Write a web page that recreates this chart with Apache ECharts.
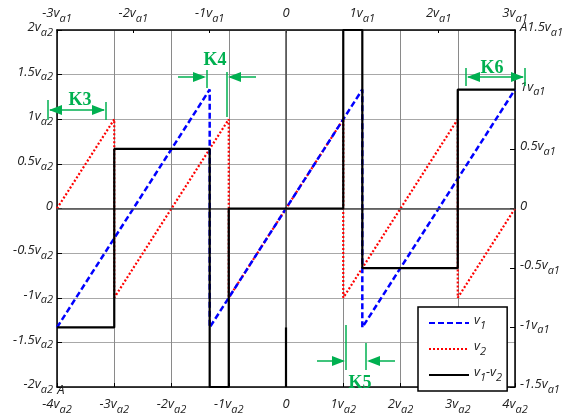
<!DOCTYPE html>
<html><head><meta charset="utf-8">
<script src="https://cdn.jsdelivr.net/npm/echarts@6/dist/echarts.min.js"></script>
<style>html,body{margin:0;padding:0;background:#fff}#c{width:562px;height:416px}</style>
</head><body><div id="c"></div>
<script>
// x in units of v_a2, y in units of v_a2
const v1Data = [[-4,-1.333],[-1.333,1.333],[-1.333,-1.333],[1.333,1.333],[1.333,-1.333],[4,1.333]];
const v2Data = [[-4,0],[-3,1],[-3,-1],[-1,1],[-1,-1],[1,1],[1,-1],[3,1],[3,-1],[4,0]];
const diffData = [[-4,-1.333],[-3,-1.333],[-3,0.667],[-1.333,0.667],[-1.333,-2],[-1,-2],[-1,0],[1,0],[1,2],[1.333,2],[1.333,-0.667],[3,-0.667],[3,1.333],[4,1.333]];
const diffExtra = [[0,-1.333],[0,-2]];
const bottomTicks = [-4,-3,-2,-1,0,1,2,3,4];      // v_a2
const leftTicks = [-2,-1.5,-1,-0.5,0,0.5,1,1.5,2]; // v_a2
const topTicks = [-3,-2,-1,0,1,2,3];              // v_a1
const rightTicks = [-1.5,-1,-0.5,0,0.5,1,1.5];    // v_a1
const seriesNames = ['v1','v2','v1-v2'];

const FONT = 'Open Sans';
const rich = {
  n: {fontFamily: FONT, fontStyle: 'italic', fontSize: 13, color: '#222', padding: [0,0,5,0]},
  s: {fontFamily: FONT, fontStyle: 'italic', fontSize: 11, color: '#222', padding: [5,0,0,0]}
};
function lab(v, sub, prefix) {
  const p = prefix || '';
  if (v === 0) return '{n|' + p + '0}';
  return '{n|' + p + v + 'v}{s|' + sub + '}';
}

const chart = echarts.init(document.getElementById('c'));
const G = '#00b050';
const L = 57, R = 515, T = 30, B = 387;

function arrowHead(tipX, y, dir) {
  const len = 13, h = 5;
  return {type: 'polygon', shape: {points: [[tipX, y], [tipX - dir*len, y - h], [tipX - dir*len, y + h]]}, style: {fill: G}, z: 100};
}
function seg(x1,y1,x2,y2){ return {type:'line', shape:{x1,y1,x2,y2}, style:{stroke:G, lineWidth:1.5}, z:100}; }
function ktext(t, x, y){ return {type:'text', x, y, style:{text:t, fill:G, font:'bold 18px "Liberation Serif"', align:'center', verticalAlign:'middle'}, z:100}; }

const graphics = [
  seg(48,100,48,120), seg(106,102,106,120), seg(50,110,104,110), arrowHead(49,110,-1), arrowHead(105,110,1), ktext('K3',80,100),
  seg(207,70,207,88), seg(227,72,227,117), seg(178,77,204,77), arrowHead(206,77,1), seg(256,77,230,77), arrowHead(228,77,-1), ktext('K4',215,60),
  seg(346,325,346,370), seg(366,343,366,370), seg(317,361,343,361), arrowHead(345,361,1), seg(395,361,369,361), arrowHead(367,361,-1), ktext('K5',360,383),
  seg(466,68,466,86), seg(525,68,525,86), seg(468,77,523,77), arrowHead(467,77,-1), arrowHead(524,77,1), ktext('K6',492,68),
  {type:'text', x:61, y:390, style:{text:'A', fill:'#222', font:'italic 13px "Open Sans"', align:'center', verticalAlign:'middle'}, z:50}
];

chart.setOption({
  animation: false,
  backgroundColor: '#fff',
  grid: {left: L, right: 562 - R, top: T, bottom: 416 - B, containLabel: false, outerBoundsMode: 'none'},
  xAxis: [
    {type: 'value', position: 'bottom', min: -4, max: 4, interval: 1,
     axisLine: {onZero: false, lineStyle: {color: '#000', width: 1.5}},
     axisTick: {inside: true, length: 4, lineStyle: {color: '#000'}},
     splitLine: {show: true, lineStyle: {color: '#8a8a8a', width: 1}},
     axisLabel: {margin: 11, formatter: v => lab(v, 'a2'), rich: rich}},
    {type: 'value', position: 'top', min: -3, max: 3, interval: 1,
     axisLine: {onZero: false, lineStyle: {color: '#000', width: 1.5}},
     axisTick: {inside: true, length: 3, lineStyle: {color: '#000'}},
     splitLine: {show: false},
     axisLabel: {margin: 5, formatter: v => lab(v, 'a1'), rich: rich}}
  ],
  yAxis: [
    {type: 'value', position: 'left', min: -2, max: 2, interval: 0.5,
     axisLine: {onZero: false, lineStyle: {color: '#000', width: 1.5}},
     axisTick: {inside: true, length: 5, lineStyle: {color: '#000'}},
     splitLine: {show: true, lineStyle: {color: '#a8a8a8', width: 1}},
     axisLabel: {margin: 4, formatter: v => lab(v, 'a2'), rich: rich}},
    {type: 'value', position: 'right', min: -1.5, max: 1.5, interval: 0.5,
     axisLine: {onZero: false, lineStyle: {color: '#000', width: 1.5}},
     axisTick: {inside: true, length: 5, lineStyle: {color: '#000'}},
     splitLine: {show: false},
     axisLabel: {margin: 5, formatter: v => lab(v, 'a1', v === 1.5 ? 'A' : ''), rich: rich}}
  ],
  legend: {
    data: seriesNames, orient: 'vertical', left: 418, top: 307,
    itemWidth: 40, itemHeight: 14, itemGap: 9,
    padding: [7, 5, 8, 10],
    itemStyle: {opacity: 0},
    borderColor: '#000', borderWidth: 1.5, borderRadius: 0, backgroundColor: '#fff',
    formatter: name => name.split('-').map(p => '{v|v}{s|' + p.slice(1) + '}').join('{v|-}'),
    textStyle: {rich: {
      v: {fontFamily: FONT, fontStyle: 'italic', fontSize: 13, color: '#222', padding: [0,0,5,0]},
      s: {fontFamily: FONT, fontStyle: 'italic', fontSize: 11, color: '#222', padding: [5,0,0,0]}
    }}
  },
  series: [
    {type: 'line', name: 'zero', data: [], silent: true,
     markLine: {silent: true, symbol: 'none', label: {show: false},
       lineStyle: {color: '#4a4a4a', width: 1.5, type: 'solid'},
       data: [{xAxis: 0}, {yAxis: 0}]}, z: 1},
    {type: 'line', name: 'v1', data: v1Data, symbol: 'none', clip: false,
     lineStyle: {color: '#0000ff', width: 2.5, type: [6, 3]}, itemStyle: {color: '#0000ff'}, z: 4},
    {type: 'line', name: 'v2', data: v2Data, symbol: 'none', clip: false,
     lineStyle: {color: '#ff0000', width: 2.2, type: [2, 2]}, itemStyle: {color: '#ff0000'}, z: 3},
    {type: 'line', name: 'v1-v2', data: diffData, symbol: 'none', clip: false,
     lineStyle: {color: '#000', width: 2.2, type: 'solid'}, itemStyle: {color: '#000'}, z: 5},
    {type: 'line', name: 'extra', data: diffExtra, symbol: 'none', clip: false,
     lineStyle: {color: '#000', width: 2.2}, z: 5}
  ],
  graphic: graphics
});
</script></body></html>
